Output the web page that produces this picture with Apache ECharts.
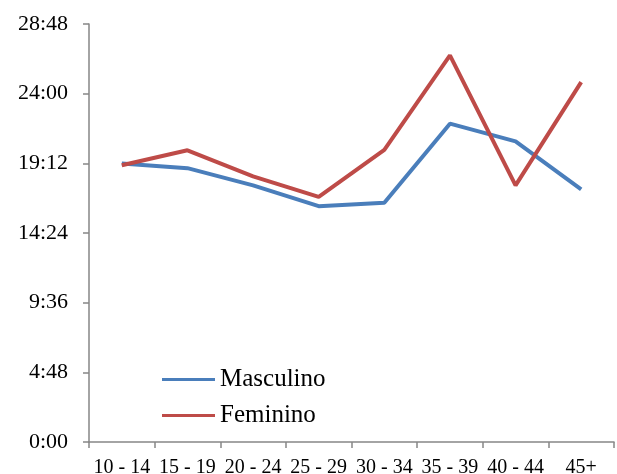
<!DOCTYPE html>
<html>
<head>
<meta charset="utf-8">
<script src="https://cdn.jsdelivr.net/npm/echarts@6/dist/echarts.min.js"></script>
<style>html,body{margin:0;padding:0;background:#fff}#c{width:617px;height:474px}</style>
</head>
<body>
<div id="c"></div>
<script>
// values in minutes (displayed as h:mm)
var categories = ['10 - 14','15 - 19','20 - 24','25 - 29','30 - 34','35 - 39','40 - 44','45+'];
var masculino = [1151, 1132, 1061, 975, 989, 1316, 1243, 1044];
var feminino  = [1144, 1206, 1098, 1013, 1208, 1598, 1061, 1488];
var yTicks = [0, 288, 576, 864, 1152, 1440, 1728];

function fmt(v){var h=Math.floor(v/60),m=Math.round(v%60);return h+':'+(m<10?'0':'')+m;}
var font = '"Liberation Serif","Times New Roman",serif';
var chart = echarts.init(document.getElementById('c'), null, {renderer:'canvas'});
chart.setOption({
  animation:false,
  backgroundColor:'#fff',
  textStyle:{fontFamily:font,color:'#000'},
  grid:{left:89,right:3,top:24,bottom:32,containLabel:false,outerBoundsMode:'none'},
  legend:{
    orient:'vertical',left:157,top:362,
    icon:'rect',itemWidth:53,itemHeight:3,itemGap:11,
    textStyle:{fontFamily:font,fontSize:25,lineHeight:24,color:'#000'},
    data:['Masculino','Feminino']
  },
  xAxis:{
    type:'category',data:categories,boundaryGap:true,
    axisLine:{lineStyle:{color:'#868686',width:1.5}},
    axisTick:{show:true,length:6,lineStyle:{color:'#868686',width:1.5}},
    axisLabel:{interval:0,fontFamily:font,fontSize:20,color:'#000',margin:16}
  },
  yAxis:{
    type:'value',min:yTicks[0],max:yTicks[yTicks.length-1],interval:yTicks[1]-yTicks[0],
    splitLine:{show:false},
    axisLine:{show:true,lineStyle:{color:'#868686',width:1.5}},
    axisTick:{show:true,length:6,lineStyle:{color:'#868686',width:1.5}},
    axisLabel:{fontFamily:font,fontSize:22,color:'#000',margin:21,formatter:fmt}
  },
  series:[
    {name:'Masculino',type:'line',data:masculino,showSymbol:false,symbol:'none',
     lineStyle:{color:'#4A7EBB',width:4},itemStyle:{color:'#4A7EBB'}},
    {name:'Feminino',type:'line',data:feminino,showSymbol:false,symbol:'none',
     lineStyle:{color:'#BE4B48',width:4},itemStyle:{color:'#BE4B48'}}
  ]
});
</script>
</body>
</html>
